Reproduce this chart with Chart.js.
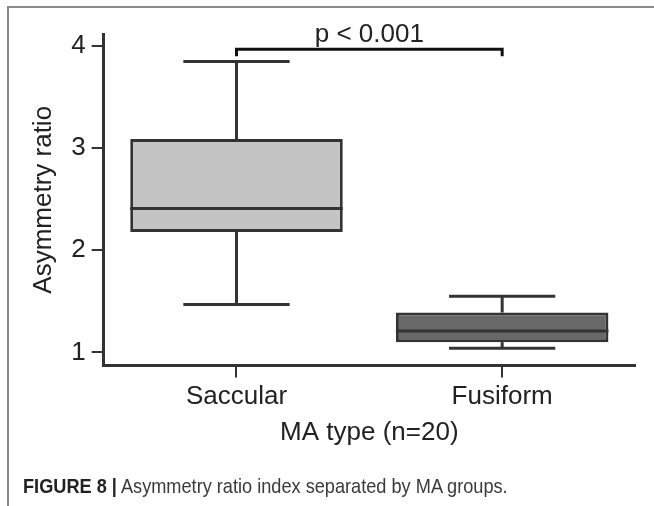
<!DOCTYPE html>
<html>
<head>
<meta charset="utf-8">
<script src="https://cdn.jsdelivr.net/npm/chart.js@4"></script>
<style>
  html, body { margin: 0; padding: 0; background: #fff; }
  #wrap { position: relative; width: 654px; height: 506px; overflow: hidden; }
  #frame { position: absolute; left: 7px; top: 6px; right: -10px; bottom: -10px; border-left: 2px solid #8a8a8a; border-top: 2px solid #8a8a8a; }
  #chart { position: absolute; left: 0; top: 0; }
  #caption { position: absolute; left: 23px; top: 474px; font-family: "Liberation Sans", Arial, sans-serif; font-size: 21px; line-height: normal; color: #3a3a3a; white-space: nowrap; transform: scaleX(0.865); transform-origin: left top; }
  #caption b { font-weight: bold; color: #222; }
</style>
</head>
<body>
<div id="wrap">
  <div id="frame"></div>
  <canvas id="chart" width="654" height="506"></canvas>
  <div id="caption"><b>FIGURE 8 |</b> Asymmetry ratio index separated by MA groups.</div>
</div>
<script>
const categories = ['Saccular', 'Fusiform'];
const whiskerLow = [1.47, 1.04];
const q1 = [2.18, 1.10];
const median = [2.41, 1.21];
const q3 = [3.09, 1.39];
const whiskerHigh = [3.85, 1.55];
const yTicks = [1, 2, 3, 4];
const boxColors = ['#c4c4c4', '#686868'];
const pLabel = 'p < 0.001';
const bracketValue = 3.97;

const ink = '#333333';
const font = '"Liberation Sans", Arial, sans-serif';

// median lines, whiskers and the significance bracket
const boxExtras = {
  id: 'boxExtras',
  afterDatasetsDraw(chart) {
    const ctx = chart.ctx;
    const y = chart.scales.y;
    const bars = chart.getDatasetMeta(0).data;
    ctx.save();
    ctx.strokeStyle = ink;
    ctx.lineWidth = 3;
    ctx.lineCap = 'butt';
    const line = (x1, y1, x2, y2) => {
      ctx.beginPath();
      ctx.moveTo(x1, y1);
      ctx.lineTo(x2, y2);
      ctx.stroke();
    };
    bars.forEach((bar, i) => {
      const half = bar.width / 2;
      const cap = bar.width / 4;
      const x = bar.x;
      line(x - half, y.getPixelForValue(median[i]), x + half, y.getPixelForValue(median[i]));
      line(x, y.getPixelForValue(q3[i]), x, y.getPixelForValue(whiskerHigh[i]));
      line(x, y.getPixelForValue(q1[i]), x, y.getPixelForValue(whiskerLow[i]));
      line(x - cap, y.getPixelForValue(whiskerHigh[i]), x + cap, y.getPixelForValue(whiskerHigh[i]));
      line(x - cap, y.getPixelForValue(whiskerLow[i]), x + cap, y.getPixelForValue(whiskerLow[i]));
    });
    // bracket
    const by = y.getPixelForValue(bracketValue);
    const x0 = bars[0].x, x1 = bars[1].x;
    ctx.strokeStyle = '#111';
    ctx.beginPath();
    ctx.moveTo(x0, by + 7);
    ctx.lineTo(x0, by);
    ctx.lineTo(x1, by);
    ctx.lineTo(x1, by + 7);
    ctx.stroke();
    ctx.fillStyle = '#222';
    ctx.font = '26px ' + font;
    ctx.textAlign = 'center';
    ctx.textBaseline = 'alphabetic';
    ctx.fillText(pLabel, (x0 + x1) / 2, by - 7);
    ctx.restore();
  }
};

new Chart(document.getElementById('chart'), {
  type: 'bar',
  data: {
    labels: categories,
    datasets: [{
      data: q1.map((v, i) => [v, q3[i]]),
      backgroundColor: boxColors,
      borderColor: ink,
      borderWidth: 3,
      borderSkipped: false,
      categoryPercentage: 0.8,
      barPercentage: 1.0,
    }],
  },
  options: {
    responsive: false,
    animation: false,
    layout: { padding: { left: 28, right: 19, top: 34, bottom: 58 } },
    plugins: { legend: { display: false }, tooltip: { enabled: false } },
    scales: {
      x: {
        grid: { display: true, drawOnChartArea: false, drawTicks: true, tickLength: 12, color: ink, lineWidth: 2, offset: false },
        border: { display: true, color: ink, width: 3 },
        ticks: { color: '#222', font: { family: font, size: 26 }, padding: 4 },
        title: { display: true, text: 'MA type (n=20)', color: '#222', font: { family: font, size: 26 }, padding: { top: 0, bottom: 0 } },
      },
      y: {
        min: 0.87,
        max: 4.12,
        afterBuildTicks: (scale) => { scale.ticks = yTicks.map(v => ({ value: v })); },
        grid: { display: true, drawOnChartArea: false, drawTicks: true, tickLength: 12, color: ink, lineWidth: 2 },
        border: { display: true, color: ink, width: 3 },
        ticks: { color: '#222', font: { family: font, size: 26 }, padding: 6 },
        title: { display: true, text: 'Asymmetry ratio', color: '#222', font: { family: font, size: 26 }, padding: { top: 0, bottom: 6 } },
      },
    },
  },
  plugins: [boxExtras],
});
</script>
</body>
</html>
